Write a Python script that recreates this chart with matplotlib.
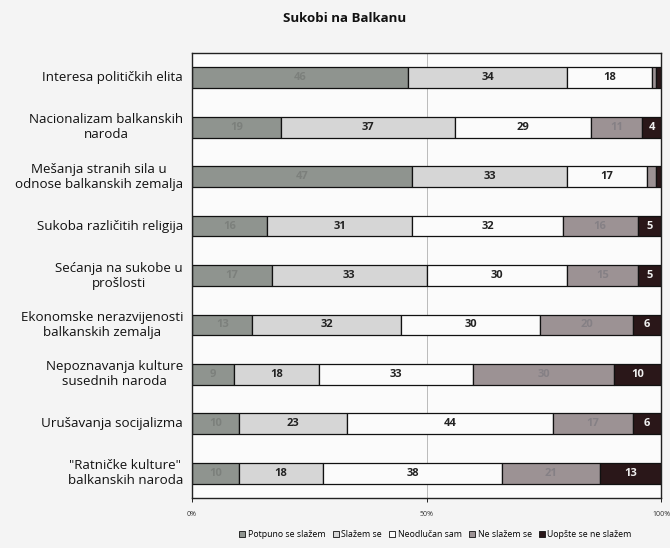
import numpy as np
import matplotlib.pyplot as plt
from matplotlib.patches import Patch

plt.rcParams['font.family'] = ['Open Sans', 'DejaVu Sans']

# categories (top to bottom)
categories = [
    "Interesa političkih elita",
    "Nacionalizam balkanskih\nnaroda",
    "Mešanja stranih sila u\nodnose balkanskih zemalja",
    "Sukoba različitih religija",
    "Sećanja na sukobe u\nprošlosti",
    "Ekonomske nerazvijenosti\nbalkanskih zemalja",
    "Nepoznavanja kulture\nsusednih naroda",
    "Urušavanja socijalizma",
    "\"Ratničke kulture\"\nbalkanskih naroda",
]
series_names = ["Potpuno se slažem", "Slažem se", "Neodlučan sam",
                "Ne slažem se", "Uopšte se ne slažem"]

potpuno = [46, 19, 47, 16, 17, 13, 9, 10, 10]
slazem = [34, 37, 33, 31, 33, 32, 18, 23, 18]
neodlucan = [18, 29, 17, 32, 30, 30, 33, 44, 38]
ne_slazem = [1, 11, 2, 16, 15, 20, 30, 17, 21]
uopste = [1, 4, 1, 5, 5, 6, 10, 6, 13]

colors = ["#8f948f", "#d6d6d6", "#fbfbfb", "#9c9294", "#2a1719"]
text_colors = ["#7c807c", "#222222", "#222222", "#858085", "#f0f0f0"]

data = np.array([potpuno, slazem, neodlucan, ne_slazem, uopste], dtype=float)
pct = data / data.sum(axis=0) * 100

fig = plt.figure(figsize=(6.7, 5.48), dpi=100, facecolor="#f4f4f4")
ax = fig.add_axes([0.2866, 0.0912, 0.7, 0.8121], facecolor="#fbfbfb")

y = np.arange(len(categories))
left = np.zeros(len(categories))
for i in range(len(series_names)):
    ax.barh(y, pct[i], left=left, height=0.42, color=colors[i],
            edgecolor="#111111", linewidth=0.9, label=series_names[i])
    for j in range(len(categories)):
        v = data[i, j]
        if v >= 4:
            ax.text(left[j] + pct[i, j] / 2, y[j], f"{int(v)}",
                    ha="center", va="center", fontsize=8,
                    fontweight="bold", color=text_colors[i])
    left += pct[i]

ax.set_xlim(0, 100)
ax.set_ylim(len(categories) - 0.5, -0.5)
ax.axvline(50, color="#bbbbbb", lw=0.7, zorder=0)

ax.set_xticks([0, 50, 100])
ax.set_xticklabels(["0%", "50%", "100%"], fontsize=5, color="#333333")
ax.tick_params(axis="x", length=3, width=0.6, pad=6)
ax.set_yticks([])
for s in ax.spines.values():
    s.set_color("#222222")
    s.set_linewidth(1.0)

for j, cat in enumerate(categories):
    ax.text(-1.9, y[j], cat, ha="right", va="center", multialignment="center",
            fontsize=9.6, color="#111111", transform=ax.transData,
            linespacing=1.2)

fig.text(0.515, 0.967, "Sukobi na Balkanu", ha="center", va="center",
         fontsize=9.5, fontweight="bold", color="#111111")

handles = [Patch(facecolor=c, edgecolor="#111111", linewidth=0.6) for c in colors]
fig.legend(handles, series_names, loc="center", bbox_to_anchor=(0.65, 0.025),
           ncol=5, frameon=False, fontsize=6.3, handlelength=0.7,
           handleheight=0.7, handletextpad=0.3, columnspacing=0.8)

fig.savefig("out.png", dpi=100, facecolor=fig.get_facecolor())
